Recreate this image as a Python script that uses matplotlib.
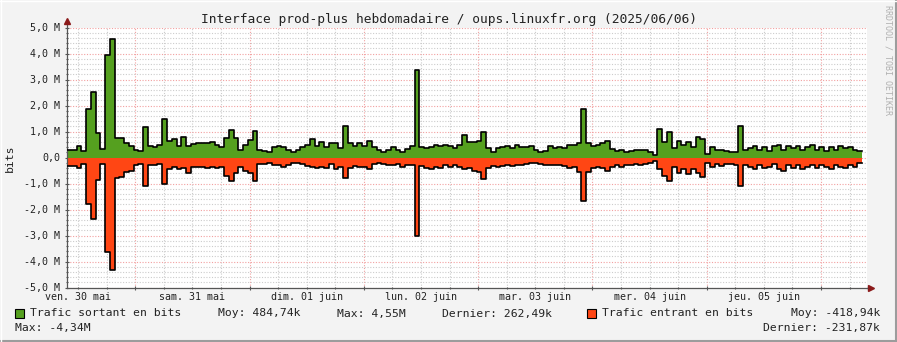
import numpy as np
import matplotlib.pyplot as plt
from matplotlib.patches import Rectangle
from matplotlib.lines import Line2D
from matplotlib.ticker import MultipleLocator, FixedLocator
from matplotlib.transforms import blended_transform_factory

W, H = 897, 342

# start of the week window, hours after 30 mai 00:00
start_h = 9.66

# Mbit/s, one value per hour
out_bits = [0.28, 0.28, 0.43, 0.25, 1.88, 2.51, 0.95, 0.34, 3.96, 4.55,
            0.76, 0.75, 0.56, 0.45, 0.30, 0.25, 1.18, 0.45, 0.40, 0.48,
            1.50, 0.64, 0.72, 0.45, 0.77, 0.45, 0.52, 0.55, 0.55, 0.57,
            0.60, 0.50, 0.42, 0.75, 1.05, 0.75, 0.30, 0.50, 0.68, 1.01,
            0.27, 0.25, 0.22, 0.40, 0.45, 0.42, 0.28, 0.22, 0.28, 0.40,
            0.48, 0.70, 0.45, 0.60, 0.42, 0.55, 0.55, 0.35, 1.23, 0.55,
            0.45, 0.55, 0.45, 0.63, 0.40, 0.30, 0.20, 0.30, 0.40, 0.30,
            0.22, 0.33, 0.45, 3.35, 0.40, 0.35, 0.40, 0.50, 0.45, 0.50,
            0.45, 0.35, 0.50, 0.85, 0.59, 0.60, 0.65, 0.98, 0.35, 0.22,
            0.35, 0.40, 0.45, 0.38, 0.50, 0.42, 0.40, 0.45, 0.30, 0.22,
            0.25, 0.45, 0.35, 0.40, 0.38, 0.48, 0.50, 0.55, 1.85, 0.55,
            0.45, 0.50, 0.55, 0.63, 0.33, 0.25, 0.30, 0.20, 0.25, 0.28,
            0.30, 0.28, 0.22, 0.10, 1.08, 0.60, 0.97, 0.35, 0.65, 0.50,
            0.60, 0.40, 0.77, 0.70, 0.15, 0.40, 0.30, 0.30, 0.25, 0.20,
            0.22, 1.20, 0.30, 0.35, 0.45, 0.30, 0.40, 0.25, 0.45, 0.50,
            0.30, 0.45, 0.35, 0.45, 0.30, 0.40, 0.48, 0.30, 0.40, 0.25,
            0.40, 0.30, 0.45, 0.35, 0.40, 0.30, 0.26]

in_bits = [0.31, 0.31, 0.40, 0.25, 1.77, 2.38, 0.85, 0.25, 3.64, 4.34,
           0.80, 0.75, 0.57, 0.50, 0.30, 0.25, 1.08, 0.30, 0.28, 0.26,
           1.00, 0.45, 0.35, 0.45, 0.40, 0.60, 0.35, 0.38, 0.38, 0.40,
           0.38, 0.40, 0.38, 0.70, 0.90, 0.60, 0.35, 0.50, 0.60, 0.91,
           0.24, 0.25, 0.22, 0.30, 0.28, 0.35, 0.30, 0.22, 0.20, 0.25,
           0.32, 0.35, 0.42, 0.35, 0.40, 0.25, 0.45, 0.35, 0.78, 0.40,
           0.33, 0.35, 0.38, 0.45, 0.25, 0.20, 0.25, 0.30, 0.28, 0.25,
           0.35, 0.28, 0.30, 3.00, 0.33, 0.40, 0.45, 0.35, 0.40, 0.30,
           0.35, 0.30, 0.35, 0.45, 0.40, 0.50, 0.55, 0.82, 0.40, 0.33,
           0.38, 0.33, 0.30, 0.33, 0.30, 0.28, 0.25, 0.20, 0.20, 0.25,
           0.30, 0.28, 0.30, 0.28, 0.33, 0.40, 0.38, 0.55, 1.68, 0.55,
           0.40, 0.38, 0.42, 0.52, 0.35, 0.30, 0.38, 0.28, 0.30, 0.25,
           0.28, 0.25, 0.20, 0.15, 0.46, 0.72, 0.91, 0.35, 0.60, 0.45,
           0.65, 0.45, 0.60, 0.74, 0.20, 0.38, 0.25, 0.33, 0.25, 0.25,
           0.30, 1.10, 0.27, 0.35, 0.45, 0.30, 0.40, 0.35, 0.25, 0.45,
           0.50, 0.30, 0.40, 0.28, 0.45, 0.35, 0.30, 0.42, 0.30, 0.38,
           0.45, 0.28, 0.35, 0.42, 0.30, 0.35, 0.23]

days = ["ven. 30 mai", "sam. 31 mai", "dim. 01 juin", "lun. 02 juin",
        "mar. 03 juin", "mer. 04 juin", "jeu. 05 juin"]
y_vals = [5, 4, 3, 2, 1, 0, -1, -2, -3, -4, -5]
y_labels = ["5,0 M", "4,0 M", "3,0 M", "2,0 M", "1,0 M", "0,0",
            "-1,0 M", "-2,0 M", "-3,0 M", "-4,0 M", "-5,0 M"]

title = "Interface prod-plus hebdomadaire / oups.linuxfr.org (2025/06/06)"
out_name = "Trafic sortant en bits"
in_name = "Trafic entrant en bits"
out_stats = ["Moy: 484,74k", "Max: 4,55M", "Dernier: 262,49k"]
in_stats = ["Moy: -418,94k", "Max: -4,34M", "Dernier: -231,87k"]

GREEN = "#55a01f"
ORANGE = "#ff4614"
MONO = "DejaVu Sans Mono"

plt.rcParams["font.family"] = MONO


def fx(x):
    return x / W


def fy(y):
    return 1 - y / H


fig = plt.figure(figsize=(W / 100, H / 100), dpi=100, facecolor="#f3f3f3")
ax = fig.add_axes([fx(67), fy(287.5), 800 / W, 260 / H])
ax.set_facecolor("white")

edges = start_h + np.arange(len(out_bits) + 1)
out_v = np.r_[out_bits, out_bits[-1]]
in_v = -np.r_[in_bits, in_bits[-1]]

ax.fill_between(edges, 0, out_v, step="post", color=GREEN, lw=0, zorder=2)
ax.fill_between(edges, 0, in_v, step="post", color=ORANGE, lw=0, zorder=2)
ax.step(edges, out_v, where="post", color="black", lw=1.2, zorder=3)
ax.step(edges, in_v, where="post", color="black", lw=1.2, zorder=3)

ax.set_xlim(start_h, start_h + 168)
ax.set_ylim(-5, 5)

midnights = np.arange(24, 169, 24)
ax.xaxis.set_major_locator(FixedLocator(midnights))
ax.xaxis.set_minor_locator(MultipleLocator(6))
ax.set_xticklabels([])
ax.set_yticks(y_vals)
ax.set_yticklabels(y_labels, fontsize=7.2)
ax.yaxis.set_minor_locator(MultipleLocator(0.2))

ax.grid(which="minor", color="#cccccc", ls=(0, (1, 1.5)), lw=0.8)
ax.grid(which="major", color="#f2a0a0", ls=(0, (1, 1.5)), lw=0.8)
ax.set_axisbelow(True)

ax.tick_params(which="both", direction="inout", color="#555555", width=0.8)
ax.tick_params(which="major", length=3)
ax.tick_params(which="minor", length=2)
ax.tick_params(axis="y", which="major", pad=3.2, labelcolor="#222222")

for side in ("top", "right"):
    ax.spines[side].set_visible(False)
for side in ("left", "bottom"):
    ax.spines[side].set_color("#555555")
    ax.spines[side].set_linewidth(0.9)

# axis arrows like rrdtool
ax.plot([0, 0], [1, 1 + 6 / 260], transform=ax.transAxes, color="#555555",
        lw=0.9, clip_on=False)
ax.plot([0], [1 + 6.5 / 260], transform=ax.transAxes, marker="^", ms=4,
        color="#8b1a1a", clip_on=False)
ax.plot([1, 1 + 3 / 800], [0, 0], transform=ax.transAxes, color="#555555",
        lw=0.9, clip_on=False)
ax.plot([1 + 4 / 800], [0], transform=ax.transAxes, marker=">", ms=4,
        color="#8b1a1a", clip_on=False)

trans = blended_transform_factory(ax.transData, ax.transAxes)
for k, d in enumerate(days):
    ax.text(12 + 24 * k, -9.5 / 260, d, transform=trans, ha="center",
            va="center", fontsize=7.2, color="#222222")

fig.text(0.5, fy(19.5), title, ha="center", va="center", fontsize=9.3,
         color="#222222")
fig.text(fx(10), fy(158), "bits", rotation=90, ha="center", va="center",
         fontsize=8.2, color="#222222")
fig.text(fx(887.5), fy(5), "RRDTOOL / TOBI OETIKER", rotation=270,
         ha="center", va="top", fontsize=6, color="#b0b0b0")

# legend
row1, row2 = fy(313.5), fy(327.5)
fig.add_artist(Rectangle((fx(15), fy(318)), 9 / W, 9 / H,
                         transform=fig.transFigure, fc=GREEN, ec="black", lw=0.8))
fig.add_artist(Rectangle((fx(587), fy(318)), 9 / W, 9 / H,
                         transform=fig.transFigure, fc=ORANGE, ec="black", lw=0.8))
leg = dict(va="center", fontsize=8.2, color="#222222")
fig.text(fx(30), row1, out_name, **leg)
fig.text(fx(218), row1, out_stats[0], **leg)
fig.text(fx(337), row1, out_stats[1], **leg)
fig.text(fx(441.5), row1, out_stats[2], **leg)
fig.text(fx(602), row1, in_name, **leg)
fig.text(fx(880), row1, in_stats[0], ha="right", **leg)
fig.text(fx(15), row2, in_stats[1], **leg)
fig.text(fx(880), row2, in_stats[2], ha="right", **leg)

# 3d frame
fig.add_artist(Line2D([0, 1], [fy(341), fy(341)], transform=fig.transFigure,
                      color="#9c9c9c", lw=1.5))
fig.add_artist(Line2D([fx(896), fx(896)], [0, 1], transform=fig.transFigure,
                      color="#9c9c9c", lw=1.5))
fig.add_artist(Line2D([0, 1], [fy(0.5), fy(0.5)], transform=fig.transFigure,
                      color="white", lw=1))
fig.add_artist(Line2D([fx(0.5), fx(0.5)], [0, 1], transform=fig.transFigure,
                      color="white", lw=1))

fig.savefig("out.png", dpi=100, facecolor=fig.get_facecolor())
